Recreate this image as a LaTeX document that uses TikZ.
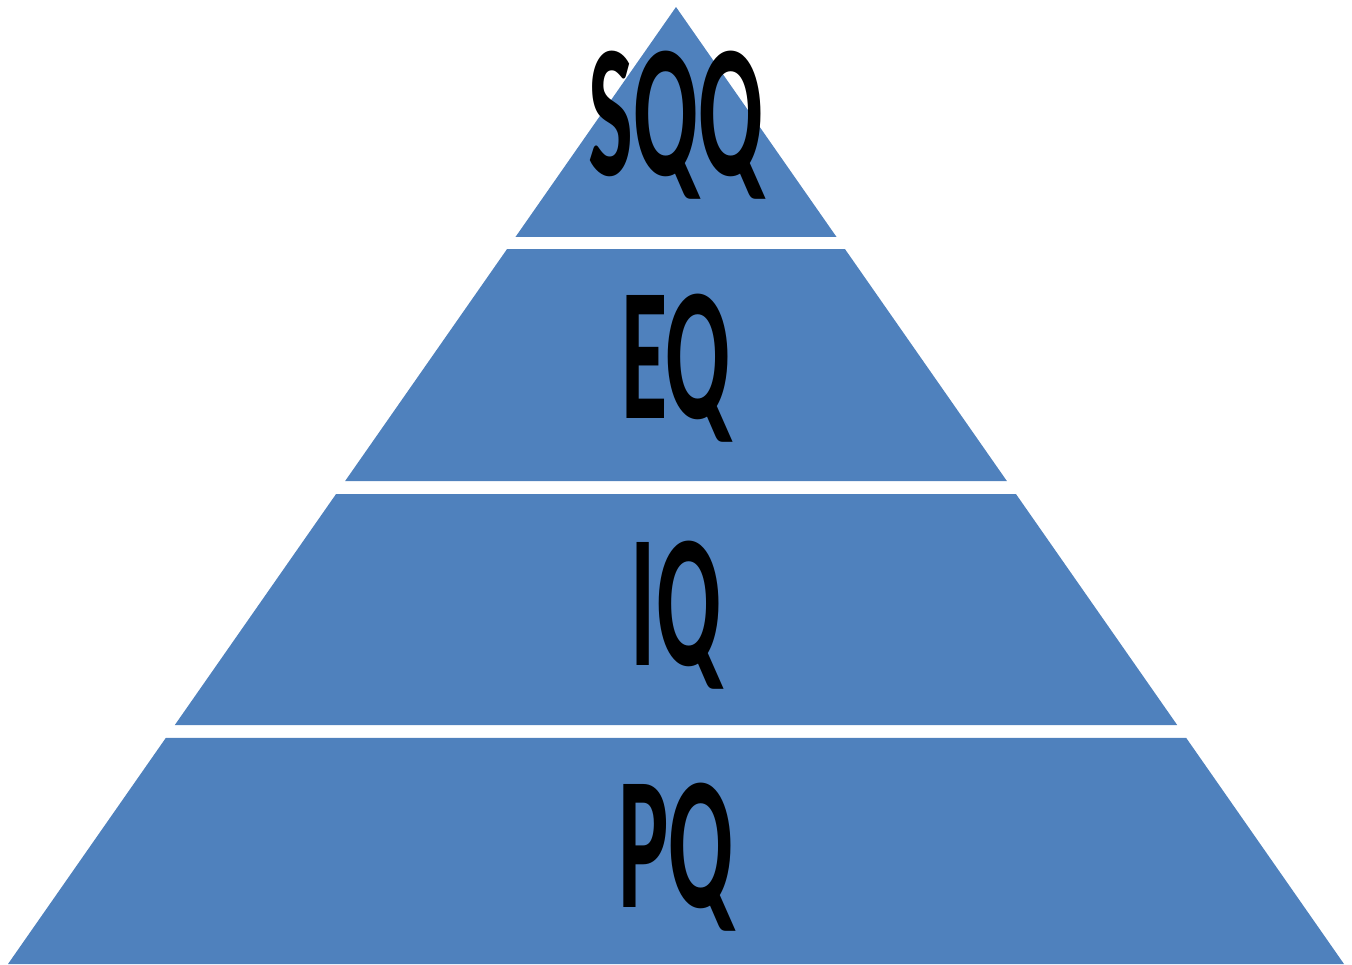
\documentclass[tikz,border=0pt]{standalone}
\usepackage{fontspec}
\usepackage{graphicx}
\setmainfont{Carlito}
\usetikzlibrary{calc}
\definecolor{PyrBlue}{RGB}{79,129,189}
\tikzset{
  pyr/layer/.style={fill=PyrBlue},
  pyr/label/.style={
    anchor=base,
    inner sep=0pt,
    text=black,
    font=\fontsize{108}{108}\selectfont\bfseries
  }
}
\newcommand{\pyrtext}[1]{\scalebox{0.5}[1]{#1}}

\begin{document}
\begin{tikzpicture}[x=0.02cm,y=-0.02cm]
  \useasboundingbox (0,0) rectangle (1352,964);
  \coordinate (apex) at (676,7);
  \coordinate (bl) at (8,964);
  \coordinate (br) at (1344,964);
  % four bands of the pyramid
  \foreach \t/\b in {0/0.2403,0.2529/0.4953,0.5089/0.7503,0.7638/1}{
    \fill[pyr/layer] ($(apex)!\t!(bl)$) -- ($(apex)!\t!(br)$) -- ($(apex)!\b!(br)$) -- ($(apex)!\b!(bl)$) -- cycle;
  }
  \foreach \y/\lab in {175/SQQ,418/EQ,665/IQ,907/PQ}{
    \node[pyr/label] (\lab) at (676,\y) {\pyrtext{\lab}};
  }
\end{tikzpicture}
\end{document}
